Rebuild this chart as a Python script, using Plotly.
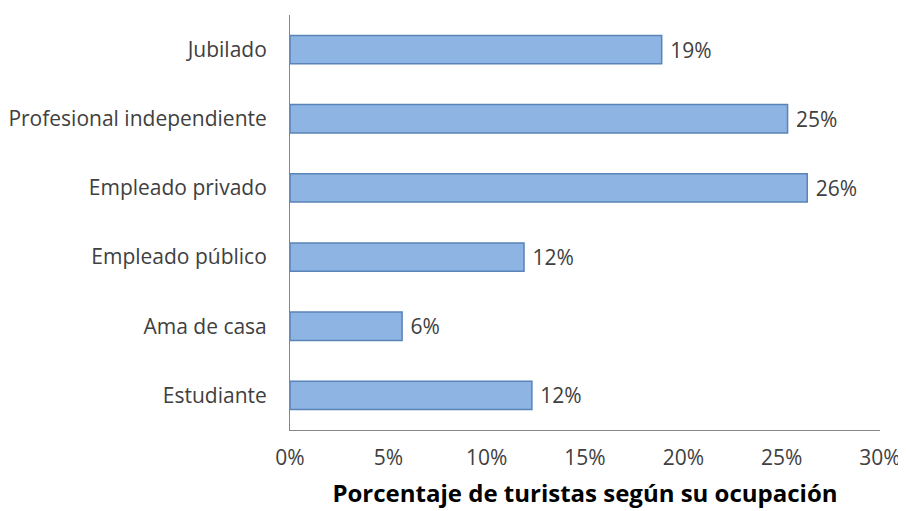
import plotly.graph_objects as go

categories = ["Estudiante", "Ama de casa", "Empleado público", "Empleado privado",
              "Profesional independiente", "Jubilado"]
values = [12.3, 5.7, 11.9, 26.3, 25.3, 18.9]
labels = ["12%", "6%", "12%", "26%", "25%", "19%"]
tick_vals = [0, 5, 10, 15, 20, 25, 30]
tick_text = ["0%", "5%", "10%", "15%", "20%", "25%", "30%"]

font_family = "Open Sans, Liberation Sans, sans-serif"

fig = go.Figure(go.Bar(
    y=categories, x=values, orientation="h",
    marker=dict(color="#8DB4E3", line=dict(color="#5A83B8", width=1.5)),
    width=0.41,
    text=labels, texttemplate=" %{text}", textposition="outside", cliponaxis=False,
    textfont=dict(size=21, color="#404040", family=font_family),
))

fig.update_layout(
    width=906, height=511,
    margin=dict(l=282, r=34, t=7, b=89),
    paper_bgcolor="white", plot_bgcolor="white",
    showlegend=False,
    font=dict(family=font_family, size=21, color="#404040"),
    xaxis=dict(range=[0, 30], tickvals=tick_vals, ticktext=tick_text,
               showgrid=False, zeroline=False, showline=True,
               linecolor="#868686", linewidth=1, ticks="", automargin=False,
               tickfont=dict(size=21, color="#404040"), ticklabelstandoff=9,
               title=dict(text="<b>Porcentaje de turistas según su ocupación</b>",
                          font=dict(size=24, color="#000000"), standoff=14)),
    yaxis=dict(showgrid=False, zeroline=False, showline=True,
               linecolor="#868686", linewidth=1, ticks="", automargin=False,
               tickfont=dict(size=21, color="#404040"), ticklabelstandoff=18),
)

fig.write_html("out.html")
